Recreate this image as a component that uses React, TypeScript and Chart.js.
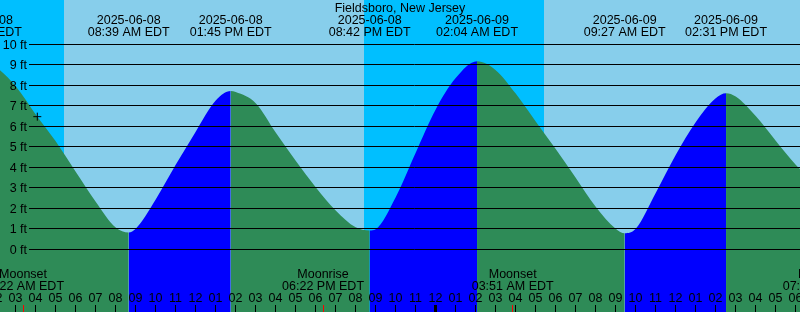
import React, { useEffect, useRef } from 'react';
import { Chart, registerables } from 'chart.js';

Chart.register(...registerables);

// ---- data (hours since 2025-06-08 00:00 EDT) ----
const STATION = 'Fieldsboro, New Jersey';

const tideTimes = [1.27, 2, 3, 4, 5, 6, 7, 8, 8.65, 9, 10, 11, 12, 13, 13.75, 14, 15, 16, 17, 18, 19, 20, 20.7, 21, 22, 23, 24, 25, 26.067, 27, 28, 29, 30, 31, 32, 33, 33.45, 34, 35, 36, 37, 38, 38.517, 39, 40, 41, 42, 43];
const tideHeights = [9.05, 8.88, 7.95, 6.58, 5.27, 3.78, 2.32, 1.06, 0.82, 1.0, 2.43, 4.12, 5.74, 7.26, 7.72, 7.67, 7.13, 5.7, 4.32, 3.03, 1.89, 1.07, 0.92, 0.98, 2.54, 4.71, 6.82, 8.35, 9.17, 8.74, 7.6, 6.24, 4.89, 3.49, 2.07, 1.0, 0.78, 1.0, 2.75, 4.6, 6.2, 7.37, 7.61, 7.45, 6.5, 5.3, 4.13, 3.2];

const extremeTimes = [1.265, 8.65, 13.75, 20.7, 26.067, 33.45, 38.517];
const extremeDates = ['2025-06-08', '2025-06-08', '2025-06-08', '2025-06-08', '2025-06-09', '2025-06-09', '2025-06-09'];
const extremeClock = ['01:16 AM EDT', '08:39 AM EDT', '01:45 PM EDT', '08:42 PM EDT', '02:04 AM EDT', '09:27 AM EDT', '02:31 PM EDT'];

const moonTimes = [3.367, 18.367, 27.85, 43.4];
const moonEvents = ['Moonset', 'Moonrise', 'Moonset', 'Moonrise'];
const moonClock = ['03:22 AM EDT', '06:22 PM EDT', '03:51 AM EDT', '07:24 PM EDT'];

const nightStart = [-6, 20.417];
const nightEnd = [5.417, 29.4];

const heightTicks = [0, 1, 2, 3, 4, 5, 6, 7, 8, 9, 10];
const heightTickLabels = ['0 ft', '1 ft', '2 ft', '3 ft', '4 ft', '5 ft', '6 ft', '7 ft', '8 ft', '9 ft', '10 ft'];

const nowTime = [4.08];
const nowHeight = [6.47];

const viewStart = 2.215;
const viewEnd = 42.215;
const yMin = -3.059;
const yMax = 12.161;

// ---- styles ----
const DAY = '#87CEEB';
const NIGHT = '#00BFFF';
const RISING = '#0000FF';
const FALLING = '#2E8B57';
const FONT = '12.5px "Liberation Sans", Arial, sans-serif';

const decorPlugin = {
  id: 'tideDecor',
  beforeDraw(chart: any) {
    const { ctx, scales } = chart;
    const xs = scales.x;
    ctx.save();
    ctx.fillStyle = DAY;
    ctx.fillRect(0, 0, chart.width, chart.height);
    ctx.fillStyle = NIGHT;
    nightStart.forEach((s, i) => {
      const a = Math.max(0, Math.round(xs.getPixelForValue(s)));
      const b = Math.min(chart.width, Math.round(xs.getPixelForValue(nightEnd[i])));
      if (b > a) ctx.fillRect(a, 0, b - a, chart.height);
    });
    ctx.restore();
  },
  afterDatasetsDraw(chart: any) {
    const { ctx, scales } = chart;
    const xs = scales.x;
    const ys = scales.y;
    const W = chart.width;
    const H = chart.height;
    ctx.save();
    ctx.font = FONT;
    ctx.fillStyle = '#000';
    ctx.strokeStyle = '#000';
    ctx.lineWidth = 1;

    // height grid + labels
    heightTicks.forEach((h, i) => {
      const y = Math.floor(ys.getPixelForValue(h)) + 0.5;
      ctx.beginPath();
      ctx.moveTo(29, y);
      ctx.lineTo(W, y);
      ctx.stroke();
      ctx.textAlign = 'right';
      ctx.textBaseline = 'alphabetic';
      ctx.fillText(heightTickLabels[i], 27, y + 4.5);
    });

    // title
    ctx.textAlign = 'center';
    ctx.fillText(STATION, W / 2, 12);

    // high / low labels
    extremeTimes.forEach((t, i) => {
      const x = xs.getPixelForValue(t);
      ctx.fillText(extremeDates[i], x, 24);
      ctx.fillText(extremeClock[i], x, 36);
    });

    // moon events
    moonTimes.forEach((t, i) => {
      const x = xs.getPixelForValue(t);
      ctx.fillText(moonEvents[i], x, 278);
      ctx.fillText(moonClock[i], x, 290);
    });

    // hour ticks
    for (let h = Math.floor(viewStart); h <= Math.ceil(viewEnd); h++) {
      const x = Math.floor(xs.getPixelForValue(h)) + 0.5;
      const hod = ((h % 24) + 24) % 24;
      const lbl = String(hod % 12 === 0 ? 12 : hod % 12).padStart(2, '0');
      ctx.fillText(lbl, x, 302);
      ctx.lineWidth = hod === 0 ? 3 : 1;
      ctx.beginPath();
      ctx.moveTo(x, 305);
      ctx.lineTo(x, H);
      ctx.stroke();
    }
    ctx.lineWidth = 1;
    ctx.strokeStyle = '#FF0000';
    moonTimes.forEach((t) => {
      const x = Math.floor(xs.getPixelForValue(t)) + 0.5;
      ctx.beginPath();
      ctx.moveTo(x, 305);
      ctx.lineTo(x, H);
      ctx.stroke();
    });
    ctx.restore();
  },
};

export default function App() {
  const ref = useRef<HTMLCanvasElement | null>(null);
  useEffect(() => {
    if (!ref.current) return;
    const tidePoints = tideTimes.map((t, i) => ({ x: t, y: tideHeights[i] }));
    const nowPoints = nowTime.map((t, i) => ({ x: t, y: nowHeight[i] }));
    const chart = new Chart(ref.current, {
      type: 'line',
      data: {
        datasets: [
          {
            data: nowPoints,
            showLine: false,
            fill: false,
            pointStyle: 'cross',
            pointRadius: 4,
            pointBorderColor: '#000',
            pointBorderWidth: 1,
            borderColor: '#000',
          } as any,
          {
            data: tidePoints,
            fill: 'start',
            backgroundColor: FALLING,
            borderColor: 'transparent',
            borderWidth: 0,
            pointRadius: 0,
            cubicInterpolationMode: 'monotone',
            segment: {
              backgroundColor: (c: any) => (c.p1.parsed.y > c.p0.parsed.y ? RISING : FALLING),
              borderColor: 'transparent',
            },
          } as any,
        ],
      },
      options: {
        responsive: false,
        animation: false,
        devicePixelRatio: 1,
        layout: { padding: 0, autoPadding: false },
        events: [],
        plugins: { legend: { display: false }, tooltip: { enabled: false } },
        scales: {
          x: { type: 'linear', min: viewStart, max: viewEnd, display: false },
          y: { type: 'linear', min: yMin, max: yMax, display: false },
        },
      } as any,
      plugins: [decorPlugin],
    });
    return () => chart.destroy();
  }, []);
  return (
    <div style={{ position: 'absolute', left: 0, top: 0, width: 800, height: 312 }}>
      <canvas ref={ref} width={800} height={312} style={{ display: 'block' }} />
    </div>
  );
}
